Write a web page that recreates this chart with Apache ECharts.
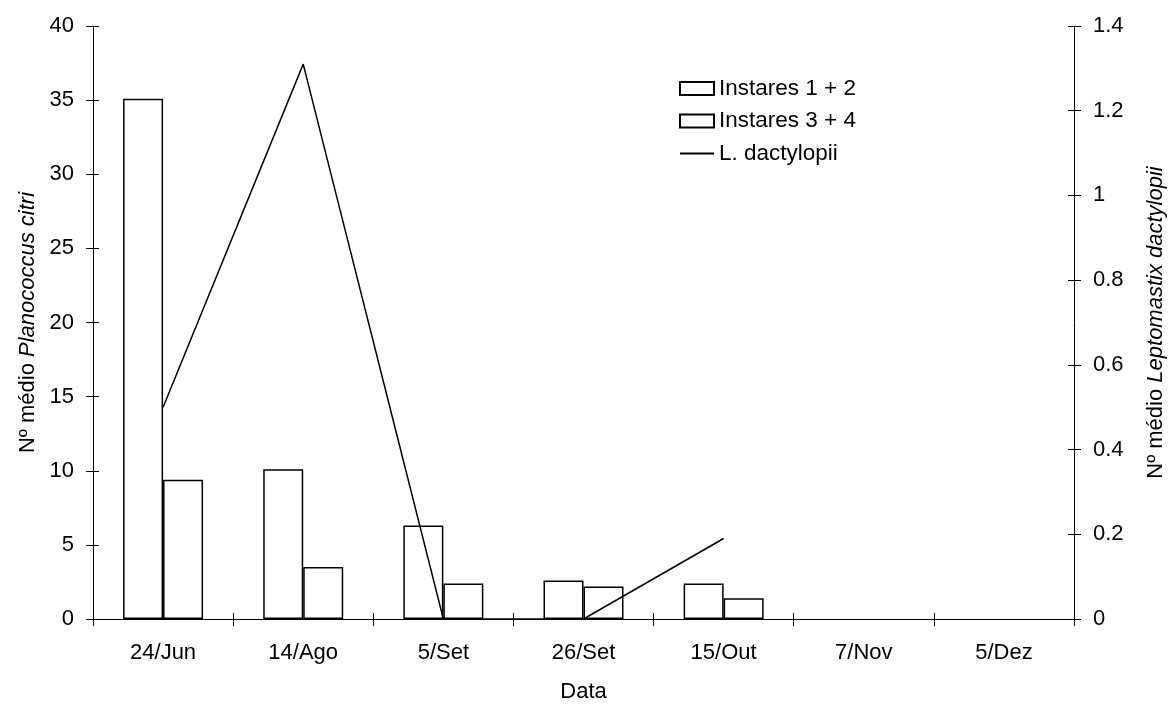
<!DOCTYPE html>
<html>
<head>
<meta charset="utf-8">
<script src="https://cdn.jsdelivr.net/npm/echarts@6/dist/echarts.min.js"></script>
<style>
  html, body { margin: 0; padding: 0; background: #fff; }
  #chart { width: 1175px; height: 708px; }
</style>
</head>
<body>
<div id="chart"></div>
<script>
// Sampling dates
var datas = ['24/Jun', '14/Ago', '5/Set', '26/Set', '15/Out', '7/Nov', '5/Dez'];
// Mean number of Planococcus citri per sample, by instar group
var instares12 = [35.1, 10.1, 6.3, 2.6, 2.4, null, null];
var instares34 = [9.4, 3.5, 2.4, 2.2, 1.4, null, null];
// Mean number of Leptomastix dactylopii
var dactylopii = [0.5, 1.31, 0, 0, 0.19, null, null];

var FONT = 'Liberation Sans, Arial, sans-serif';
var tickOut = { show: true, length: 7, lineStyle: { color: '#000', width: 1 } };
var tickIn = { show: true, inside: true, length: 6, lineStyle: { color: '#000', width: 1 } };
var axisLine = { show: true, lineStyle: { color: '#000', width: 1 } };
var labelStyle = { color: '#000', fontFamily: FONT, fontSize: 22 };

var chart = echarts.init(document.getElementById('chart'), null, { renderer: 'canvas' });

chart.setOption({
  animation: false,
  backgroundColor: '#fff',
  textStyle: { fontFamily: FONT },
  grid: { left: 93, right: 97, top: 26, bottom: 82, containLabel: false },
  legend: {
    orient: 'vertical',
    left: 679,
    top: 77,
    padding: 0,
    itemWidth: 34,
    itemHeight: 13,
    itemGap: 9.5,
    textStyle: { color: '#000', fontFamily: FONT, fontSize: 22.5 },
    data: [
      { name: 'Instares 1 + 2', icon: 'rect' },
      { name: 'Instares 3 + 4', icon: 'rect' },
      { name: 'L. dactylopii', itemStyle: { opacity: 0 } }
    ]
  },
  xAxis: [
    {
      type: 'category',
      data: datas,
      position: 'bottom',
      boundaryGap: true,
      axisLine: axisLine,
      axisTick: tickOut,
      axisLabel: Object.assign({ margin: 23 }, labelStyle),
      name: 'Data',
      nameLocation: 'middle',
      nameGap: 62,
      nameTextStyle: labelStyle,
      splitLine: { show: false }
    },
    {
      type: 'category',
      data: datas,
      position: 'bottom',
      boundaryGap: true,
      axisLine: { show: false },
      axisTick: tickIn,
      axisLabel: { show: false },
      splitLine: { show: false }
    }
  ],
  yAxis: [
    {
      type: 'value',
      position: 'left',
      min: 0, max: 40, interval: 5,
      axisLine: axisLine,
      axisTick: tickOut,
      axisLabel: Object.assign({ margin: 19 }, labelStyle),
      splitLine: { show: false },
      name: '{n|Nº médio }{i|Planococcus citri}',
      nameLocation: 'middle',
      nameRotate: 90,
      nameGap: 54,
      nameTextStyle: {
        rich: {
          n: { color: '#000', fontFamily: FONT, fontSize: 22 },
          i: { color: '#000', fontFamily: FONT, fontSize: 22, fontStyle: 'italic' }
        }
      }
    },
    {
      type: 'value',
      position: 'right',
      min: 0, max: 1.4, interval: 0.2,
      axisLine: axisLine,
      axisTick: tickOut,
      axisLabel: Object.assign({ margin: 19 }, labelStyle),
      splitLine: { show: false },
      name: '{n|Nº médio }{i|Leptomastix dactylopii}',
      nameLocation: 'middle',
      nameRotate: 90,
      nameGap: 71,
      nameTextStyle: {
        rich: {
          n: { color: '#000', fontFamily: FONT, fontSize: 22 },
          i: { color: '#000', fontFamily: FONT, fontSize: 22, fontStyle: 'italic' }
        }
      }
    },
    {
      type: 'value',
      position: 'left',
      min: 0, max: 40, interval: 5,
      axisLine: { show: false },
      axisTick: tickIn,
      axisLabel: { show: false },
      splitLine: { show: false }
    },
    {
      type: 'value',
      position: 'right',
      min: 0, max: 1.4, interval: 0.2,
      axisLine: { show: false },
      axisTick: tickIn,
      axisLabel: { show: false },
      splitLine: { show: false }
    }
  ],
  series: [
    {
      name: 'Instares 1 + 2',
      type: 'bar',
      xAxisIndex: 0,
      yAxisIndex: 0,
      data: instares12,
      barWidth: 40,
      barGap: '0%',
      itemStyle: { color: '#fff', borderColor: '#000', borderWidth: 1.5 }
    },
    {
      name: 'Instares 3 + 4',
      type: 'bar',
      xAxisIndex: 0,
      yAxisIndex: 0,
      data: instares34,
      barWidth: 40,
      barGap: '0%',
      itemStyle: { color: '#fff', borderColor: '#000', borderWidth: 1.5 }
    },
    {
      name: 'L. dactylopii',
      type: 'line',
      xAxisIndex: 0,
      yAxisIndex: 1,
      data: dactylopii,
      symbol: 'none',
      connectNulls: false,
      lineStyle: { color: '#000', width: 1.5 },
      itemStyle: { color: '#000' },
      z: 5
    }
  ]
});
</script>
</body>
</html>
